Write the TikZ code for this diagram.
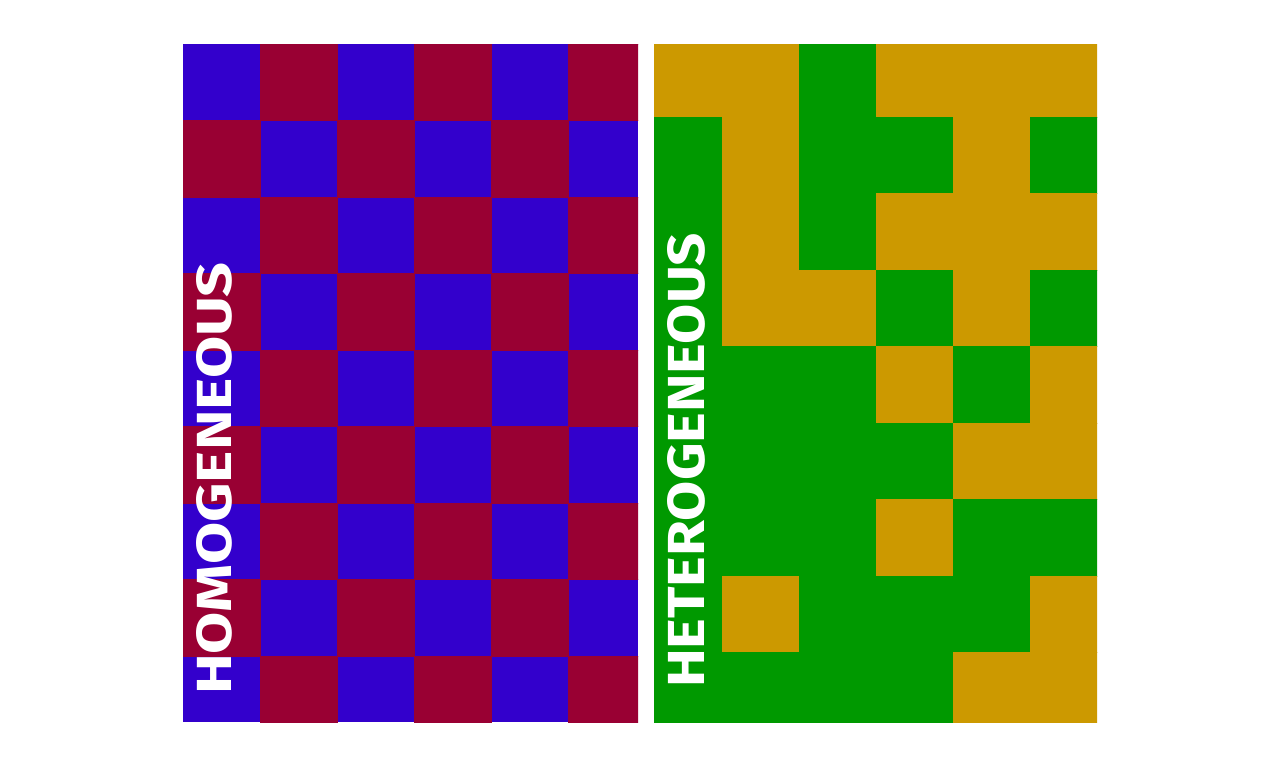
\documentclass[tikz,border=0pt]{standalone}
\usepackage{fontspec}
\usepackage{graphicx}
\newfontfamily\tagfont{Fira Sans}

\definecolor{homoblue}{HTML}{3300CC}
\definecolor{homored}{HTML}{990033}
\definecolor{hetY}{HTML}{CC9900}
\definecolor{hetG}{HTML}{009900}

\begin{document}
\begin{tikzpicture}[
    x=0.02cm, y=-0.02cm,
    % one square of a grid
    tile/.style={fill=#1, draw=#1, line width=0.3pt},
    % white words written up the left edge of a grid
    sidelabel/.style={rotate=90, inner sep=0pt, text=white,
                      font=\tagfont\bfseries}
]
\useasboundingbox (0,0) rectangle (1280,768);

%-------- HOMOGENEOUS GRID --------
\begin{scope}
  \clip (183,44) rectangle (638,722);
  \fill[homoblue] (183,44) rectangle (638,722);
  \foreach \i in {0,...,5}
    \foreach \j in {0,...,8} {
      \pgfmathtruncatemacro{\parity}{mod(\i+\j,2)}
      \ifnum\parity=1
        \fill[tile=homored] (183+77*\i,44+76.5*\j) rectangle ++(77,76.5);
      \fi
    }
\end{scope}

%-------- HETEROGENEOUS GRID --------
\begin{scope}
  \clip (654,44) rectangle (1097,722);
  \foreach \row [count=\j from 0] in {
      {Y,Y,G,Y,Y,Y},
      {G,Y,G,G,Y,G},
      {G,Y,G,Y,Y,Y},
      {G,Y,Y,G,Y,G},
      {G,G,G,Y,G,Y},
      {G,G,G,G,Y,Y},
      {G,G,G,Y,G,G},
      {G,Y,G,G,G,Y},
      {G,G,G,G,Y,Y}}
    \foreach \c [count=\i from 0] in \row
      \fill[tile=het\c] (646+76.75*\i,40.5+76.5*\j) rectangle ++(76.75,76.5);
\end{scope}

%-------- LABELS --------
\node[sidelabel] (homolabel) at (214.5,478.5)
    {\resizebox{8.66cm}{0.7cm}{HOMOGENEOUS}};
\node[sidelabel] (heterolabel) at (686.5,460.5)
    {\resizebox{9.1cm}{0.74cm}{HETEROGENEOUS}};

\end{tikzpicture}
\end{document}
